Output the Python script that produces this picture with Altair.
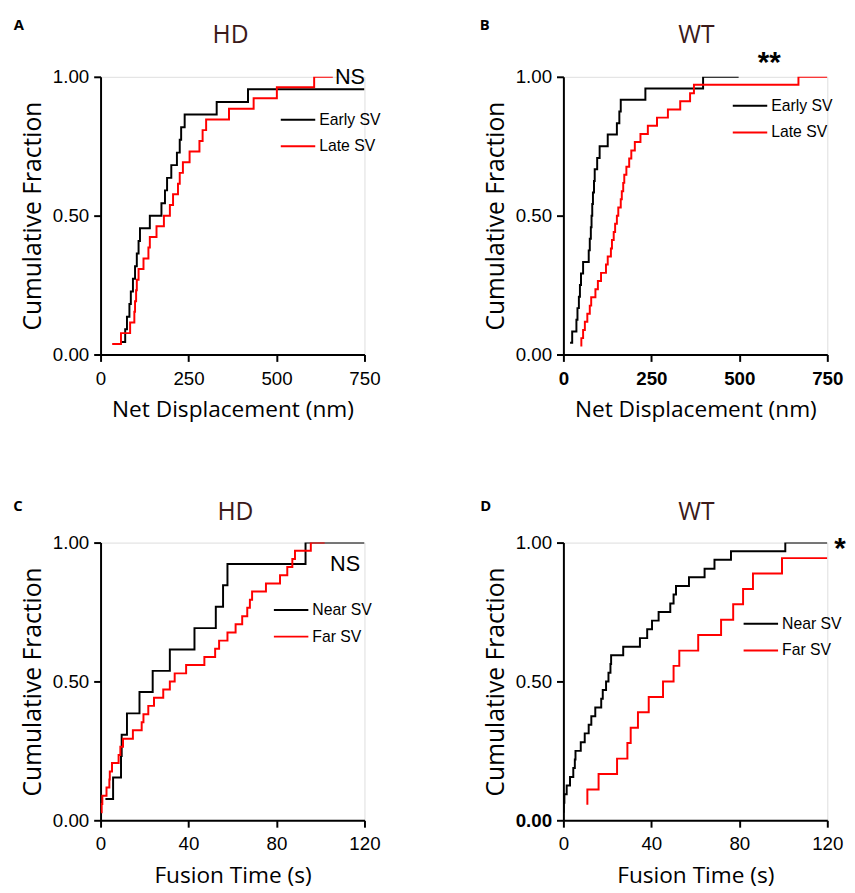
import altair as alt
import pandas as pd

# ---------------- data ----------------
# Panel A (HD) - Net displacement (nm), cumulative fraction
a_early_x = [58, 70, 75, 82, 86, 92, 98, 103, 108, 112, 140, 173, 183, 189, 201, 217, 225, 229, 239, 330, 419, 750]
a_early_y = [0.045, 0.091, 0.136, 0.182, 0.227, 0.273, 0.318, 0.364, 0.409, 0.455, 0.500, 0.545, 0.591,
             0.636, 0.682, 0.727, 0.773, 0.818, 0.864, 0.909, 0.955, 0.955]
a_late_x = [33, 58, 84, 96, 98, 101, 103, 108, 122, 136, 140, 159, 180, 197, 206, 220, 225, 234, 253, 281,
            290, 300, 365, 435, 501, 607, 660]
a_late_y = [0.038, 0.077, 0.115, 0.154, 0.192, 0.231, 0.269, 0.308, 0.346, 0.385, 0.423, 0.462, 0.500,
            0.538, 0.577, 0.615, 0.654, 0.692, 0.731, 0.769, 0.808, 0.846, 0.885, 0.923, 0.962, 1.000, 1.000]

# Panel B (WT) - Net displacement (nm)
b_early_x = [19, 25, 37, 40, 44, 47, 50, 56, 72, 75, 78, 80, 82, 84, 87, 89, 96, 103, 126, 152, 159, 163,
             233, 397, 498]
b_early_y = [0.042, 0.083, 0.125, 0.167, 0.208, 0.250, 0.292, 0.333, 0.375, 0.417, 0.458, 0.500, 0.542,
             0.583, 0.625, 0.667, 0.708, 0.750, 0.792, 0.833, 0.875, 0.917, 0.958, 1.000, 1.000]
b_late_x = [51, 51, 56, 61, 68, 75, 79, 91, 98, 107, 121, 126, 135, 138, 143, 147, 152, 156, 163, 166,
            170, 173, 179, 187, 193, 203, 219, 240, 266, 297, 332, 360, 371, 668, 750]
b_late_y = [0.029, 0.059, 0.088, 0.118, 0.147, 0.176, 0.206, 0.235, 0.265, 0.294, 0.324, 0.353, 0.382,
            0.412, 0.441, 0.471, 0.500, 0.529, 0.559, 0.588, 0.618, 0.647, 0.676, 0.706, 0.735, 0.765,
            0.794, 0.824, 0.853, 0.882, 0.912, 0.941, 0.971, 1.000, 1.000]

# Panel C (HD) - Fusion time (s)
c_near_x = [2.2, 5.7, 9.3, 9.6, 12.0, 17.7, 23.7, 31.5, 42.7, 52.4, 55.7, 57.7, 93.2, 120]
c_near_y = [0.077, 0.154, 0.231, 0.308, 0.385, 0.462, 0.538, 0.615, 0.692, 0.769, 0.846, 0.923, 1.000, 1.000]
c_far_x = [0.2, 0.5, 0.8, 2.7, 4.0, 4.2, 5.2, 8.2, 9.0, 10.2, 14.7, 18.7, 19.5, 21.7, 24.3, 28.5, 31.5,
           33.7, 38.9, 47.2, 52.1, 53.9, 57.7, 61.4, 64.4, 66.7, 67.9, 68.9, 75.2, 81.6, 84.9, 87.2, 88.4,
           95.6, 101.9]
c_far_y = [0.029, 0.059, 0.088, 0.118, 0.147, 0.176, 0.206, 0.235, 0.265, 0.294, 0.324, 0.353, 0.382,
           0.412, 0.441, 0.471, 0.500, 0.529, 0.559, 0.588, 0.618, 0.647, 0.676, 0.706, 0.735, 0.765,
           0.794, 0.824, 0.853, 0.882, 0.912, 0.941, 0.971, 1.000, 1.000]

# Panel D (WT) - Fusion time (s)
d_near_x = [0, 0.15, 0.45, 1.5, 3.0, 4.5, 5.2, 5.5, 7.9, 9.7, 11.5, 12.7, 14.5, 17.2, 17.9, 19.4, 20.5,
            21.4, 21.7, 27.2, 34.8, 38.1, 40.3, 43.3, 48.6, 50.1, 51.2, 57.1, 64.2, 68.7, 76.2, 100.9, 120]
d_near_y = [0.031, 0.063, 0.094, 0.125, 0.156, 0.188, 0.219, 0.250, 0.281, 0.313, 0.344, 0.375, 0.406,
            0.438, 0.469, 0.500, 0.531, 0.563, 0.594, 0.625, 0.656, 0.688, 0.719, 0.750, 0.781, 0.813,
            0.844, 0.875, 0.906, 0.938, 0.969, 1.000, 1.000]
d_far_x = [10.9, 10.9, 16.0, 24.4, 29.1, 30.6, 33.9, 38.8, 45.3, 50.1, 52.7, 61.3, 71.7, 77.2, 81.7,
           86.2, 99.4, 120]
d_far_y = [0.056, 0.111, 0.167, 0.222, 0.278, 0.333, 0.389, 0.444, 0.500, 0.556, 0.611, 0.667, 0.722,
           0.778, 0.833, 0.889, 0.944, 0.944]

y_ticks = [0, 0.5, 1.0]
disp_ticks = [0, 250, 500, 750]
time_ticks = [0, 40, 80, 120]

BLACK = "#000000"
RED = "#ff0000"
TITLE_COLOR = "#3b1a1a"
W, H = 268, 282


def sdf(xs, ys, name):
    return pd.DataFrame({"x": xs, "y": ys, "series": name})


def txt(s):
    return pd.DataFrame({"t": [s]})


def make_panel(black, red, names, xdomain, xticks, xtitle, title, title_x, title_y,
               letter, letter_x, letter_y, mark, mark_x, mark_y, mark_font, mark_size, mark_weight,
               mark_align, mark_baseline, leg_x, leg_y, row_pad, xlabel_weight, ylabel_weight):
    xenc = alt.X("x:Q", scale=alt.Scale(domain=xdomain, nice=False, zero=False),
                 axis=alt.Axis(values=xticks, title=xtitle, grid=False, domainColor=BLACK,
                               domainWidth=2, tickColor=BLACK, tickWidth=2, tickSize=7,
                               labelFont="Liberation Sans", labelFontSize=19, labelColor=BLACK,
                               labelFontWeight=xlabel_weight, labelFlush=False, labelOverlap=False,
                               labelPadding=8, titleFont="Open Sans", titleFontSize=23,
                               titleFontWeight="normal", titleColor=BLACK, titlePadding=11))
    yenc = alt.Y("y:Q", scale=alt.Scale(domain=[0, 1], nice=False, zero=False),
                 axis=alt.Axis(values=y_ticks, format=".2f", title="Cumulative Fraction", grid=False,
                               domainColor=BLACK, domainWidth=2, tickColor=BLACK, tickWidth=2,
                               tickSize=7, labelFont="Liberation Sans", labelFontSize=19,
                               labelColor=BLACK, labelFontWeight=ylabel_weight, labelFlush=False,
                               labelPadding=5, titleFont="Open Sans", titleFontSize=25,
                               titleFontWeight="normal", titleColor=BLACK, titlePadding=7))
    color = alt.Color("series:N", scale=alt.Scale(domain=names, range=[BLACK, RED]),
                      legend=alt.Legend(orient="none", legendX=leg_x, legendY=leg_y, title=None,
                                        symbolType="stroke", symbolSize=1225, symbolStrokeWidth=2,
                                        labelFont="Liberation Sans", labelFontSize=16,
                                        labelColor=BLACK, labelOffset=3, rowPadding=row_pad,
                                        padding=0))
    lb = alt.Chart(black).mark_line(interpolate="step-after", strokeWidth=2, clip=True).encode(
        x=xenc, y=yenc, color=color)
    lr = alt.Chart(red).mark_line(interpolate="step-after", strokeWidth=2, clip=True).encode(
        x=xenc, y=yenc, color=color)
    t_title = alt.Chart(txt(title)).mark_text(
        font="Open Sans", fontSize=25, color=TITLE_COLOR, align="center", baseline="alphabetic"
    ).encode(text="t:N", x=alt.value(title_x), y=alt.value(title_y))
    t_letter = alt.Chart(txt(letter)).mark_text(
        font="Open Sans", fontSize=15, fontWeight="bold", color=BLACK, align="center",
        baseline="middle"
    ).encode(text="t:N", x=alt.value(letter_x), y=alt.value(letter_y))
    t_mark = alt.Chart(txt(mark)).mark_text(
        font=mark_font, fontSize=mark_size, fontWeight=mark_weight, color=BLACK, align=mark_align,
        baseline=mark_baseline
    ).encode(text="t:N", x=alt.value(mark_x), y=alt.value(mark_y))
    return alt.layer(lb, lr, t_title, t_letter, t_mark).properties(width=W, height=H)


pA = make_panel(sdf(a_early_x, a_early_y, "Early SV"), sdf(a_late_x, a_late_y, "Late SV"),
                ["Early SV", "Late SV"], [0, 750], disp_ticks, "Net Displacement (nm)",
                "HD", 132, -34, "A", -83, -53, "NS", 238, 0, "Liberation Sans", 22, "normal",
                "left", "middle", 182, 25, -2.4, "normal", "normal")
pB = make_panel(sdf(b_early_x, b_early_y, "Early SV"), sdf(b_late_x, b_late_y, "Late SV"),
                ["Early SV", "Late SV"], [0, 750], disp_ticks, "Net Displacement (nm)",
                "WT", 135, -34, "B", -80, -53, "**", 209, -5, "Liberation Sans", 30, "bold",
                "center", "alphabetic", 171, 11, -3.3, "bold", "normal")
pC = make_panel(sdf(c_near_x, c_near_y, "Near SV"), sdf(c_far_x, c_far_y, "Far SV"),
                ["Near SV", "Far SV"], [0, 120], time_ticks, "Fusion Time (s)",
                "HD", 137, -23, "C", -84, -37, "NS", 233, 22, "Liberation Sans", 22, "normal",
                "left", "middle", 175, 50, -3, "normal", "normal")
pD = make_panel(sdf(d_near_x, d_near_y, "Near SV"), sdf(d_far_x, d_far_y, "Far SV"),
                ["Near SV", "Far SV"], [0, 120], time_ticks, "Fusion Time (s)",
                "WT", 135, -23, "D", -79, -37, "*", 281, 16, "Liberation Sans", 30, "bold",
                "center", "alphabetic", 182, 64, -2.1, "normal",
                {"condition": {"test": "datum.value === 0", "value": "bold"}, "value": "normal"})

chart = alt.concat(pA, pB, pC, pD, columns=2, spacing={"row": 191, "column": 202}, bounds="flush").resolve_scale(
    x="independent", y="independent", color="independent"
).resolve_legend(color="independent").properties(
    padding={"left": 4, "top": 2, "right": 0, "bottom": 0}
).configure_view(stroke=None).configure(background="white")

chart.save("out.html", embed_options={"renderer": "svg", "actions": False})
